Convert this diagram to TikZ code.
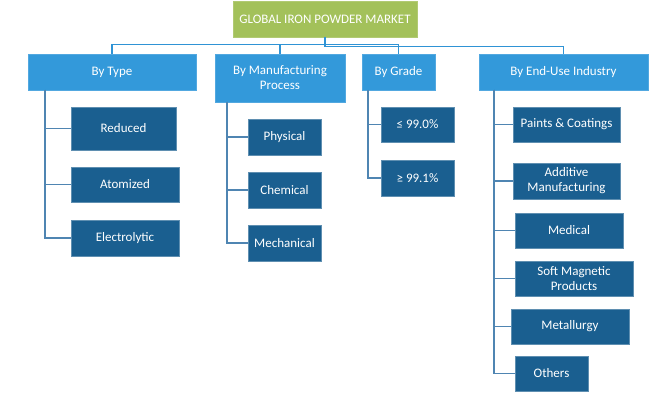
\documentclass[tikz,border=0pt]{standalone}
\usepackage{fontspec}
\setmainfont{Carlito}
\definecolor{titlegreen}{HTML}{A3C15A}
\definecolor{lightblue}{HTML}{3399DA}
\definecolor{darkblue}{HTML}{1A5F90}
\definecolor{topline}{HTML}{2F93D5}
\definecolor{subline}{HTML}{4F85B2}
\tikzset{
  box/.style={inner sep=0pt, outer sep=0pt, align=center, text=white, font=\fontsize{13}{15}\selectfont},
  titlebox/.style={box, fill=titlegreen, draw=titlegreen!85!white},
  catbox/.style={box, fill=lightblue, draw=lightblue!85!white},
  itembox/.style={box, fill=darkblue, draw=darkblue!70!white},
  topln/.style={draw=topline, line width=1.3pt},
  subln/.style={draw=subline, line width=1.3pt},
}
\begin{document}
\begin{tikzpicture}[x=1pt,y=-1pt]
\useasboundingbox (0,0) rectangle (650,409);
% title
\node[titlebox, minimum width=184pt, minimum height=36pt] (title) at (325,19) {GLOBAL IRON POWDER MARKET};
% categories
\node[catbox, minimum width=168pt, minimum height=36pt] (type) at (112,72) {By Type};
\node[catbox, minimum width=130pt, minimum height=48pt] (mp) at (280,78) {By Manufacturing\\Process};
\node[catbox, minimum width=73pt, minimum height=36pt] (grade) at (398.5,72) {By Grade};
\node[catbox, minimum width=169pt, minimum height=36pt] (enduse) at (563.5,72) {By End-Use Industry};
% by type
\node[itembox, minimum width=105pt, minimum height=43pt] (red) at (123.5,128.5) {Reduced};
\node[itembox, minimum width=108pt, minimum height=35pt] (atom) at (125,184.5) {Atomized};
\node[itembox, minimum width=108pt, minimum height=36pt] (elec) at (125,238) {Electrolytic};
% by manufacturing process
\node[itembox, minimum width=73pt, minimum height=36pt] (phys) at (284.5,137) {Physical};
\node[itembox, minimum width=73pt, minimum height=36pt] (chem) at (284.5,190) {Chemical};
\node[itembox, minimum width=73pt, minimum height=36pt] (mech) at (284.5,243) {Mechanical};
% by grade
\node[itembox, minimum width=73pt, minimum height=35pt] (le) at (417.5,124.5) {≤ 99.0\%};
\node[itembox, minimum width=73pt, minimum height=36pt] (ge) at (417.5,178) {≥ 99.1\%};
% by end-use
\node[itembox, minimum width=107pt, minimum height=35pt] (paint) at (566.5,124.5) {Paints \& Coatings};
\node[itembox, minimum width=107pt, minimum height=36pt] (addm) at (566.5,181) {Additive\\Manufacturing};
\node[itembox, minimum width=108pt, minimum height=35pt] (med) at (569,230.5) {Medical};
\node[itembox, minimum width=118pt, minimum height=35pt] (soft) at (574,278.5) {Soft Magnetic\\Products};
\node[itembox, minimum width=118pt, minimum height=35pt] (metal) at (570,326.5) {Metallurgy};
\node[itembox, minimum width=73pt, minimum height=35pt] (oth) at (551.5,373.5) {Others};
% trunk coordinates
\coordinate (typetrunk) at (45,90);
\coordinate (mptrunk) at (227,102);
\coordinate (gradetrunk) at (368,90);
\coordinate (endtrunk) at (494,90);
% top connectors
\draw[topln] (type.north) -- ++(0,-9.5) -| (grade.north);
\draw[topln] (mp.north) -- ++(0,-9.5);
\draw[topln] (title.south) -- ++(0,9.5) -| (enduse.north);
% sub connectors
\foreach \n in {red,atom,elec} \draw[subln] (typetrunk) |- (\n.west);
\foreach \n in {phys,chem,mech} \draw[subln] (mptrunk) |- (\n.west);
\foreach \n in {le,ge} \draw[subln] (gradetrunk) |- (\n.west);
\foreach \n in {paint,addm,med,soft,metal,oth} \draw[subln] (endtrunk) |- (\n.west);
\end{tikzpicture}
\end{document}
